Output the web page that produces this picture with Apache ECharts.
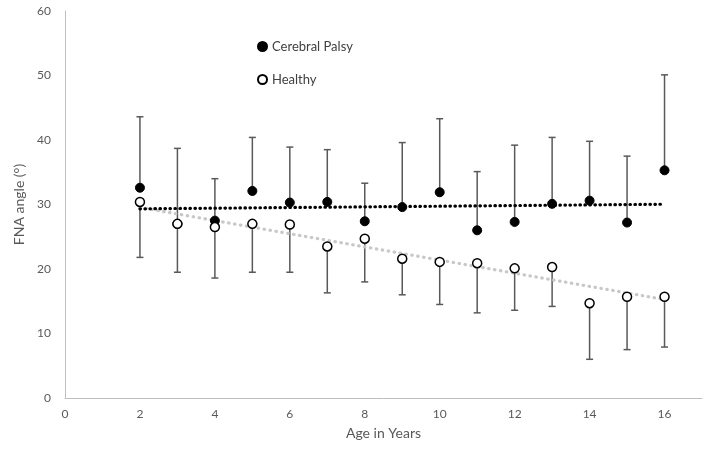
<!DOCTYPE html>
<html><head><meta charset="utf-8">
<script src="https://cdn.jsdelivr.net/npm/echarts@6/dist/echarts.min.js"></script>
<style>html,body{margin:0;padding:0;background:#fff}#c{width:709px;height:452px}</style>
</head><body><div id="c"></div>
<script>
const ages = [2,3,4,5,6,7,8,9,10,11,12,13,14,15,16];
const cpMean = [32.6,27.0,27.5,32.1,30.3,30.4,27.4,29.6,31.9,26.0,27.3,30.1,30.6,27.2,35.3];
const cpUpper = [43.6,38.7,34.0,40.4,38.9,38.5,33.3,39.6,43.3,35.1,39.2,40.4,39.8,37.5,50.1];
const hMean = [30.4,27.0,26.5,27.0,26.9,23.5,24.7,21.6,21.1,20.9,20.1,20.3,14.7,15.7,15.7];
const hLower = [21.8,19.5,18.6,19.5,19.5,16.3,18.0,16.0,14.5,13.2,13.6,14.2,6.0,7.5,7.9];
const xTicks = [0,2,4,6,8,10,12,14,16];
const yTicks = [0,10,20,30,40,50,60];

function trend(xs, ys){
  const n = xs.length;
  const mx = xs.reduce((a,b)=>a+b,0)/n, my = ys.reduce((a,b)=>a+b,0)/n;
  let sxy=0,sxx=0;
  for(let i=0;i<n;i++){sxy+=(xs[i]-mx)*(ys[i]-my);sxx+=(xs[i]-mx)*(xs[i]-mx);}
  const b=sxy/sxx, a=my-b*mx;
  const x0=xs[0], x1=xs[n-1];
  return [[x0,a+b*x0],[x1,a+b*x1]];
}

const FONT = 'Lato, "Open Sans", sans-serif';
const chart = echarts.init(document.getElementById('c'));

function errSeries(means, ends){
  return {
    type:'custom', silent:true, z:1,
    data: ages.map((a,i)=>[a,means[i],ends[i]]),
    renderItem:function(params, api){
      const p0 = api.coord([api.value(0), api.value(1)]);
      const p1 = api.coord([api.value(0), api.value(2)]);
      const hw = 3.5;
      const st = {stroke:'#595959', lineWidth:1.5};
      return {type:'group', children:[
        {type:'line', shape:{x1:p0[0],y1:p0[1],x2:p1[0],y2:p1[1]}, style:st},
        {type:'line', shape:{x1:p1[0]-hw,y1:p1[1],x2:p1[0]+hw,y2:p1[1]}, style:st}
      ]};
    }
  };
}

chart.setOption({
  animation:false,
  textStyle:{fontFamily:FONT},
  grid:{left:65, right:7, top:11, bottom:54},
  legend:{
    orient:'vertical', left:252, top:35, itemGap:20, itemWidth:9, itemHeight:9,
    textStyle:{color:'#404040', fontSize:13, fontFamily:FONT},
    data:[{name:'Cerebral Palsy'},{name:'Healthy'}]
  },
  xAxis:{
    type:'value', min:0, max:17, interval:2,
    name:'Age in Years', nameLocation:'middle', nameGap:28,
    nameTextStyle:{color:'#595959', fontSize:14, fontFamily:FONT},
    axisLine:{lineStyle:{color:'#bfbfbf', width:1}},
    axisTick:{show:false}, splitLine:{show:false},
    axisLabel:{color:'#595959', fontSize:12, margin:10, showMaxLabel:false,
      formatter:v=>xTicks.includes(v)?String(v):''}
  },
  yAxis:{
    type:'value', min:0, max:60, interval:10,
    name:'FNA angle (°)', nameLocation:'middle', nameGap:38,
    nameTextStyle:{color:'#595959', fontSize:14, fontFamily:FONT},
    axisLine:{show:true, lineStyle:{color:'#bfbfbf', width:1}},
    axisTick:{show:false}, splitLine:{show:false},
    axisLabel:{color:'#595959', fontSize:12, margin:14,
      formatter:v=>yTicks.includes(v)?String(v):''}
  },
  series:[
    errSeries(cpMean, cpUpper),
    errSeries(hMean, hLower),
    {type:'line', silent:true, z:2, symbol:'none', data:trend(ages,hMean),
      lineStyle:{color:'#c8c8c8', width:3.2, type:[0.5,5.5], cap:'round'}},
    {type:'line', silent:true, z:2, symbol:'none', data:trend(ages,cpMean),
      lineStyle:{color:'#000000', width:3.2, type:[0.5,4.5], cap:'round'}},
    {name:'Cerebral Palsy', type:'scatter', z:3, symbol:'circle', symbolSize:9,
      data:ages.map((a,i)=>[a,cpMean[i]]),
      itemStyle:{color:'#000000', opacity:1, borderColor:'#000000', borderWidth:1}},
    {name:'Healthy', type:'scatter', z:4, symbol:'circle', symbolSize:9,
      data:ages.map((a,i)=>[a,hMean[i]]),
      itemStyle:{color:'#ffffff', opacity:1, borderColor:'#000000', borderWidth:1.5}}
  ]
});
</script></body></html>
